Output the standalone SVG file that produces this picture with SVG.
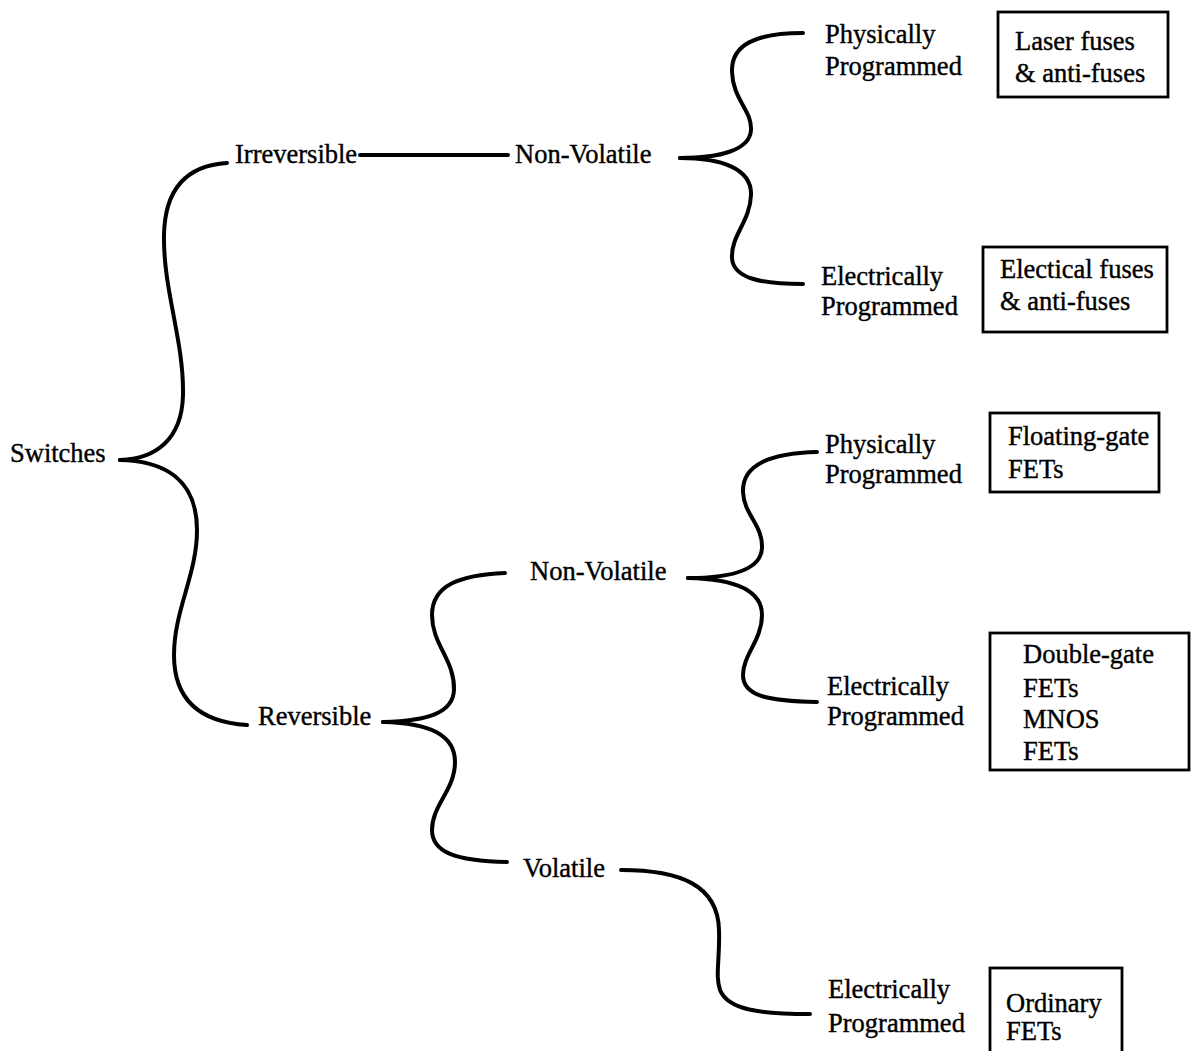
<svg xmlns="http://www.w3.org/2000/svg" width="1195" height="1051" viewBox="0 0 1195 1051">
<style>
text{font-family:"Liberation Serif","Times New Roman",serif;font-size:26.5px;fill:#000;stroke:#000;stroke-width:0.4}
.c{fill:none;stroke:#000;stroke-width:4;stroke-linecap:round}
.b{fill:#fff;stroke:#000;stroke-width:2.8}
</style>
<rect width="1195" height="1051" fill="#fff"/>
<g id="connectors">
<path class="c" d="M227,163 C195,165 165,180 164,235 C163,290 184,340 183,395 C182,440 155,459 120,460"/>
<path class="c" d="M120,460 C165,461 197,480 197,530 C197,575 174,610 174,655 C174,700 200,722 247,725"/>
<path class="c" d="M360,155 L508,155"/>
<path class="c" d="M803,33 C755,33 731,45 732,72 C733,100 752,110 751,130 C750,150 720,158 680,158"/>
<path class="c" d="M680,158 C720,158 752,168 751,195 C750,222 731,235 732,258 C733,278 760,284 803,284"/>
<path class="c" d="M505,573 C460,575 432,585 432,615 C432,645 455,660 454,690 C453,712 430,721 383,722"/>
<path class="c" d="M383,722 C430,723 455,735 455,762 C455,790 432,805 432,830 C432,852 455,861 507,862"/>
<path class="c" d="M817,452 C770,453 742,465 743,492 C744,515 763,525 762,548 C761,570 730,578 688,578"/>
<path class="c" d="M688,578 C735,579 762,590 762,615 C762,640 743,655 743,675 C743,695 765,701 817,702"/>
<path class="c" d="M621,870 C680,870 718,885 719,930 C720,960 715,975 720,990 C728,1010 760,1014 810,1014"/>
</g>
<g id="switches"><text x="10" y="462">Switches</text></g>
<g id="irreversible"><text x="235" y="163">Irreversible</text></g>
<g id="irr-nonvolatile"><text x="515" y="163">Non-Volatile</text></g>
<g id="irr-physically"><text x="825" y="43">Physically</text><text x="825" y="75">Programmed</text></g>
<g id="irr-electrically"><text x="821" y="285">Electrically</text><text x="821" y="315">Programmed</text></g>
<g id="laser-box"><rect class="b" x="998" y="12" width="170" height="85"/><text x="1015" y="50">Laser fuses</text><text x="1015" y="82">&amp; anti-fuses</text></g>
<g id="electical-box"><rect class="b" x="983" y="247" width="184" height="85"/><text x="1000" y="278">Electical fuses</text><text x="1000" y="310">&amp; anti-fuses</text></g>
<g id="reversible"><text x="258" y="725">Reversible</text></g>
<g id="rev-nonvolatile"><text x="530" y="580">Non-Volatile</text></g>
<g id="rev-physically"><text x="825" y="453">Physically</text><text x="825" y="483">Programmed</text></g>
<g id="floating-box"><rect class="b" x="990" y="413" width="169" height="79"/><text x="1008" y="445">Floating-gate</text><text x="1008" y="478">FETs</text></g>
<g id="rev-electrically"><text x="827" y="695">Electrically</text><text x="827" y="725">Programmed</text></g>
<g id="double-box"><rect class="b" x="990" y="633" width="199" height="137"/><text x="1023" y="663">Double-gate</text><text x="1023" y="697">FETs</text><text x="1023" y="728">MNOS</text><text x="1023" y="760">FETs</text></g>
<g id="volatile"><text x="523" y="877">Volatile</text></g>
<g id="vol-electrically"><text x="828" y="998">Electrically</text><text x="828" y="1032">Programmed</text></g>
<g id="ordinary-box"><rect class="b" x="990" y="968" width="132" height="100"/><text x="1006" y="1012">Ordinary</text><text x="1006" y="1040">FETs</text></g>
</svg>
